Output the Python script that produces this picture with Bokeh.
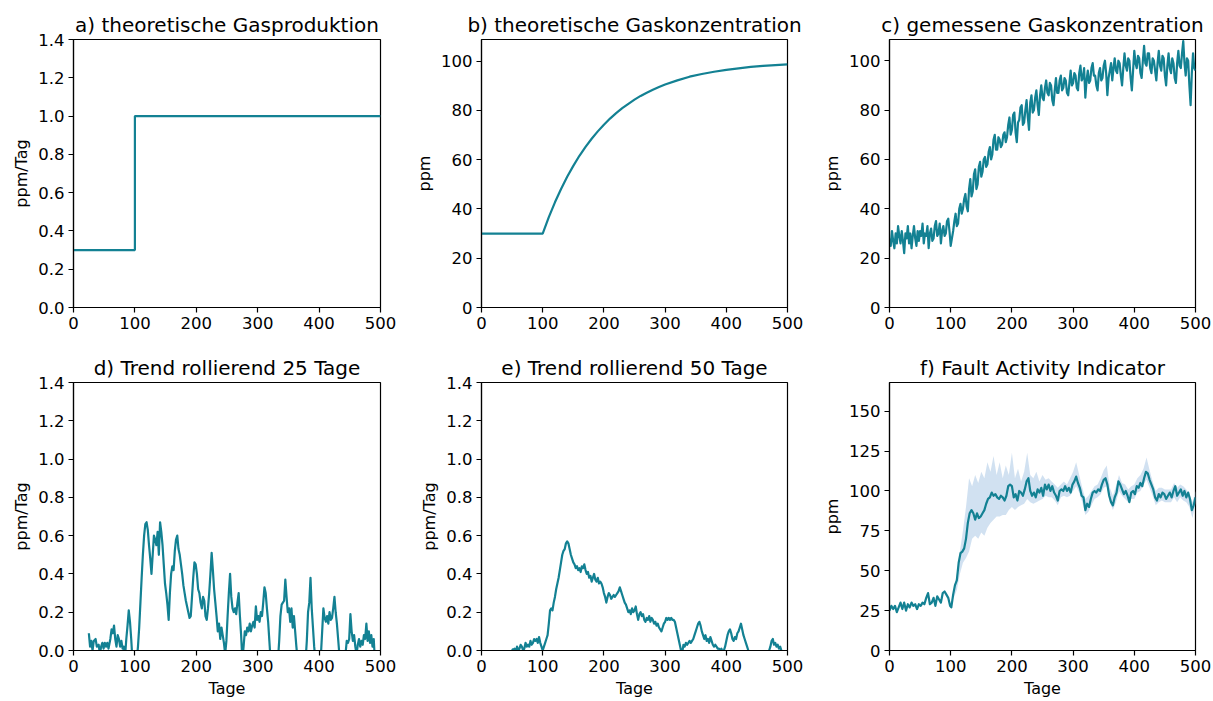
from bokeh.plotting import figure
from bokeh.layouts import column, row
from bokeh.models import FixedTicker, Range1d, CustomJSTickFormatter
from bokeh.embed import file_html
from bokeh.resources import INLINE

# ---------------- data ----------------
titles = ["a) theoretische Gasproduktion", "b) theoretische Gaskonzentration",
          "c) gemessene Gaskonzentration", "d) Trend rollierend 25 Tage",
          "e) Trend rollierend 50 Tage", "f) Fault Activity Indicator"]
x_ticks = [0, 100, 200, 300, 400, 500]
rate_ticks = [0.0, 0.2, 0.4, 0.6, 0.8, 1.0, 1.2, 1.4]
ppm_ticks = [0, 20, 40, 60, 80, 100]
fai_ticks = [0, 25, 50, 75, 100, 125, 150]

# a) theoretical production (step)
a_days = [0, 100, 500]
a_vals = [0.3, 1.0, 1.0]

# b) theoretical concentration
b_days = [0, 100, 110, 120, 130, 140, 150, 160, 170, 180, 190, 200, 210, 220, 230, 240,
          250, 260, 270, 280, 290, 300, 320, 340, 360, 380, 400, 420, 440, 460, 480, 500]
b_vals = [30.0, 30.0, 36.7, 42.7, 48.1, 53.1, 57.5, 61.6, 65.2, 68.5, 71.5, 74.2, 76.7,
          78.9, 80.9, 82.7, 84.4, 85.9, 87.2, 88.4, 89.5, 90.5, 92.2, 93.7, 94.8, 95.7,
          96.5, 97.1, 97.7, 98.1, 98.4, 98.7]

# c) measured concentration (every 2 days)
c_days = list(range(0, 501, 2))
c_vals = [28, 25, 31, 27, 24, 30, 26, 33, 29, 26,
          31, 27, 22, 30, 28, 33, 26, 30, 24, 29,
          33, 28, 25, 31, 27, 31, 29, 34, 26, 30,
          29, 33, 24, 30, 32, 27, 28, 33, 35, 29,
          30, 34, 26, 31, 33, 29, 30, 35, 36, 31,
          25, 28, 31, 35, 38, 33, 34, 40, 42, 38,
          40, 44, 46, 41, 39, 48, 52, 45, 47, 54,
          56, 48, 50, 57, 59, 53, 55, 60, 61, 57,
          58, 63, 65, 60, 62, 68, 70, 64, 64, 69,
          68, 65, 66, 70, 71, 67, 69, 74, 77, 70,
          72, 78, 79, 71, 67, 75, 76, 81, 82, 74,
          75, 80, 84, 77, 72, 83, 86, 79, 80, 85,
          88, 82, 78, 86, 90, 85, 84, 89, 92, 87,
          86, 91, 90, 84, 82, 88, 93, 87, 87, 92,
          94, 88, 89, 93, 92, 87, 86, 91, 96, 90,
          91, 95, 94, 89, 88, 95, 98, 92, 93, 97,
          85, 92, 96, 91, 92, 97, 99, 94, 94, 90,
          88, 95, 97, 92, 93, 98, 100, 95, 86, 93,
          96, 99, 92, 97, 101, 96, 95, 100, 99, 94,
          90, 97, 103, 98, 96, 101, 100, 93, 88, 96,
          104, 99, 97, 102, 101, 95, 93, 100, 106, 99,
          98, 103, 103, 97, 95, 101, 100, 96, 92, 99,
          104, 98, 96, 102, 101, 94, 90, 98, 103, 97,
          95, 101, 99, 93, 91, 99, 104, 98, 97, 103,
          108, 99, 94, 101, 100, 90, 82, 95, 103, 97,
          96]

# d) rolling trend 25 days
d_days = [25, 27, 29, 31, 33, 36, 38, 41, 43, 45, 47, 49, 51, 53, 55, 57, 60, 62, 64, 66,
          68, 70, 72, 74, 76, 78, 80, 82, 84, 86, 88, 90, 92, 94, 96, 100, 103, 105, 107, 109,
          111, 113, 115, 117, 119, 121, 123, 125, 127, 129, 131, 133, 135, 137, 139, 141, 143, 145, 147, 149,
          151, 153, 155, 157, 159, 161, 163, 165, 167, 169, 171, 173, 175, 177, 179, 181, 183, 185, 187, 189,
          191, 193, 195, 197, 199, 201, 203, 205, 207, 209, 211, 213, 215, 217, 219, 221, 223, 225, 227, 229,
          231, 233, 235, 237, 239, 241, 243, 245, 247, 249, 251, 253, 255, 257, 259, 261, 263, 265, 267, 269,
          271, 273, 275, 277, 279, 281, 283, 285, 287, 289, 291, 293, 295, 297, 299, 301, 303, 305, 307, 309,
          311, 313, 315, 317, 319, 321, 328, 333, 335, 337, 339, 341, 343, 345, 347, 349, 351, 353, 355, 357,
          359, 361, 363, 365, 372, 378, 380, 382, 384, 386, 388, 390, 392, 394, 400, 403, 405, 407, 409, 411,
          413, 415, 417, 419, 421, 423, 425, 427, 429, 431, 433, 438, 443, 445, 447, 449, 451, 453, 455, 457,
          459, 461, 463, 465, 467, 469, 471, 473, 475, 477, 479, 481, 483, 485, 487, 489, 490]
d_vals = [0.09, 0.02, 0.05, 0.0, 0.05, 0.06, 0.02, 0.03, -0.02, 0.02, 0.04, 0.01, 0.04, 0.02, 0.04, 0.01, 0.06, 0.11, 0.09, 0.13,
          0.06, 0.02, 0.08, 0.06, 0.02, 0.05, 0.01, 0.02, -0.03, 0.06, 0.13, 0.21, 0.15, 0.06, -0.05, -0.1, -0.05, 0.02, 0.12, 0.25,
          0.38, 0.50, 0.60, 0.66, 0.67, 0.63, 0.55, 0.48, 0.40, 0.50, 0.60, 0.58, 0.55, 0.62, 0.50, 0.67, 0.62, 0.55, 0.45, 0.35,
          0.30, 0.24, 0.16, 0.30, 0.40, 0.44, 0.42, 0.52, 0.58, 0.60, 0.53, 0.50, 0.45, 0.40, 0.34, 0.30, 0.26, 0.23, 0.20, 0.17,
          0.18, 0.28, 0.38, 0.46, 0.45, 0.40, 0.32, 0.30, 0.25, 0.22, 0.28, 0.26, 0.18, 0.16, 0.22, 0.30, 0.40, 0.51, 0.42, 0.32,
          0.25, 0.18, 0.10, 0.14, 0.06, 0.12, 0.08, 0.04, -0.02, 0.05, 0.18, 0.30, 0.40, 0.28, 0.22, 0.20, 0.22, 0.19, 0.25, 0.30,
          0.18, 0.08, -0.05, 0.02, 0.10, 0.08, 0.12, 0.10, 0.14, 0.10, 0.13, 0.15, 0.12, 0.23, 0.16, 0.18, 0.15, 0.20, 0.18, 0.25,
          0.33, 0.30, 0.22, 0.15, 0.05, -0.05, -0.1, -0.05, 0.05, 0.18, 0.24, 0.25, 0.26, 0.37, 0.28, 0.20, 0.22, 0.15, 0.22, 0.12,
          0.18, 0.10, 0.02, -0.05, -0.1, -0.05, 0.05, 0.20, 0.25, 0.38, 0.22, 0.12, 0.02, -0.05, -0.1, -0.02, 0.10, 0.22, 0.17, 0.15,
          0.18, 0.14, 0.20, 0.16, 0.17, 0.22, 0.28, 0.20, 0.14, 0.06, -0.02, -0.08, -0.02, 0.05, 0.04, 0.06, 0.19, 0.10, 0.05, 0.08,
          0.02, -0.02, 0.03, 0.06, 0.02, 0.05, 0.03, 0.08, 0.06, 0.14, 0.05, 0.10, 0.04, 0.08, 0.02, 0.06, 0.0]

# e) rolling trend 50 days
e_days = list(range(50, 437, 2)) + [440, 450, 460, 468] + list(range(470, 491, 2))
e_vals = [0.01, 0.0, 0.01, -0.01, 0.02, 0.0, 0.01, 0.03, 0.02, 0.0, 0.01, 0.04, 0.02, 0.03, 0.02, 0.05, 0.03, 0.04, 0.06, 0.05,
          0.06, 0.04, 0.07, 0.04, 0.02, 0.0, 0.02, 0.04, 0.06, 0.08, 0.14, 0.21, 0.22, 0.21, 0.25, 0.28, 0.32, 0.35, 0.38, 0.42,
          0.46, 0.50, 0.52, 0.53, 0.56, 0.57, 0.56, 0.53, 0.50, 0.48, 0.46, 0.45, 0.43, 0.44, 0.42, 0.43, 0.41, 0.44, 0.43, 0.45,
          0.42, 0.40, 0.41, 0.38, 0.39, 0.36, 0.38, 0.40, 0.37, 0.36, 0.38, 0.35, 0.36, 0.35, 0.33, 0.30, 0.28, 0.25, 0.28, 0.30,
          0.29, 0.27, 0.28, 0.29, 0.28, 0.29, 0.30, 0.31, 0.33, 0.31, 0.29, 0.27, 0.25, 0.24, 0.22, 0.20, 0.21, 0.19, 0.22, 0.20,
          0.21, 0.23, 0.19, 0.16, 0.19, 0.20, 0.18, 0.19, 0.16, 0.15, 0.17, 0.16, 0.18, 0.15, 0.17, 0.16, 0.14, 0.15, 0.13, 0.14,
          0.12, 0.11, 0.10, 0.12, 0.14, 0.15, 0.17, 0.16, 0.17, 0.16, 0.17, 0.16, 0.16, 0.15, 0.12, 0.09, 0.06, 0.03, 0.0, -0.01,
          0.03, 0.02, 0.04, 0.03, 0.04, 0.05, 0.04, 0.05, 0.06, 0.08, 0.10, 0.12, 0.14, 0.15, 0.13, 0.10, 0.08, 0.06, 0.08, 0.05,
          0.06, 0.04, 0.07, 0.05, 0.03, 0.02, 0.03, 0.02, 0.01, 0.01, 0.0, 0.01, -0.01, 0.0, 0.02, 0.05, 0.08, 0.10, 0.11, 0.09,
          0.06, 0.05, 0.07, 0.06, 0.09, 0.10, 0.12, 0.14, 0.11, 0.08, 0.06, 0.04, 0.02, 0.0,
          -0.04, -0.06, -0.04, -0.01,
          0.0, 0.02, 0.05, 0.06, 0.03, 0.04, 0.02, 0.03, 0.01, 0.02, 0.0]

# f) fault activity indicator (line)
f_days = list(range(0, 100, 3)) + [101] + list(range(104, 500, 3)) + [500]
f_vals = [25, 28, 26, 28, 24, 27, 30, 26, 30, 25, 29, 27, 30, 28, 29, 26, 29, 28, 30, 29,
          33, 36, 29, 30, 33, 28, 34, 32, 30, 36, 37, 35, 33, 28,
          27,
          35, 41, 44, 55, 61, 62, 64, 70, 80, 86, 88, 86, 82, 86, 83, 84, 86, 88, 92, 95,
          96, 99, 97, 98, 96, 95, 97, 96, 94, 97, 103, 104, 103, 96, 98, 94, 100, 99, 97, 101,
          106, 108, 100, 97, 99, 96, 101, 99, 102, 97, 104, 101, 104, 100, 103, 99, 97, 94, 100, 101,
          100, 103, 100, 102, 99, 104, 106, 109, 105, 102, 97, 96, 88, 92, 90, 95, 99, 100, 99, 101,
          100, 104, 107, 108, 104, 97, 93, 91, 96, 99, 106, 104, 101, 98, 100, 97, 93, 99, 100, 98,
          103, 102, 105, 103, 108, 112, 111, 107, 104, 101, 96, 94, 98, 96, 99, 98, 95, 97, 99, 96,
          100, 103, 97, 99, 101, 97, 100, 96, 99, 95, 88, 91,
          96]

# f) uncertainty band
band_days = [100, 105, 110, 115, 120, 125, 130, 135, 140, 145, 150, 155, 160, 165, 170, 175, 180, 185, 190,
             195, 200, 205, 210, 215, 220, 225, 230, 235, 240, 245, 250, 255, 260, 265, 270, 275, 280, 285, 290,
             295, 300, 305, 310, 315, 320, 325, 330, 335, 340, 345, 350, 355, 360, 365, 370, 375, 380, 385, 390,
             395, 400, 405, 410, 415, 420, 425, 430, 435, 440, 445, 450, 455, 460, 465, 470, 475, 480, 485, 490,
             495, 500]
band_low = [28, 33, 38, 48, 55, 58, 62, 70, 72, 70, 74, 72, 77, 80, 82, 84, 84, 85, 85,
            88, 90, 88, 90, 91, 92, 95, 93, 92, 93, 94, 95, 97, 96, 96, 94, 91, 96, 97, 96,
            97, 100, 103, 99, 93, 85, 87, 91, 95, 96, 98, 102, 103, 93, 88, 93, 100, 97, 95, 93,
            95, 95, 99, 100, 104, 107, 102, 97, 91, 93, 94, 93, 93, 93, 96, 93, 96, 94, 93, 90,
            83, 92]
band_high = [28, 38, 48, 62, 75, 90, 108, 103, 110, 105, 112, 108, 118, 112, 122, 110, 118, 108, 116,
             110, 124, 108, 114, 106, 112, 124, 110, 108, 112, 106, 110, 107, 108, 106, 104, 102, 104, 106, 104,
             108, 112, 118, 110, 102, 95, 97, 100, 103, 104, 108, 113, 116, 102, 97, 103, 110, 105, 104, 101,
             103, 104, 108, 110, 114, 121, 113, 106, 100, 102, 102, 101, 101, 101, 105, 102, 104, 103, 101, 98,
             93, 100]

# ---------------- styling ----------------
LINE = "#138193"
BAND = "#c9dcee"
FONT = "DejaVu Sans"
LW = 2.2


def make(title, ylabel, ymax, yticks, xlabel, ml, mr, mt, mb, fw, fh):
    p = figure(frame_width=fw, frame_height=fh, min_border_left=ml, min_border_right=mr,
               min_border_top=mt, min_border_bottom=mb, output_backend="svg",
               toolbar_location=None, x_range=Range1d(0, 500), y_range=Range1d(0, ymax),
               background_fill_color="white", border_fill_color="white")
    p.title.text = title
    p.title.align = "center"
    p.title.text_font = FONT
    p.title.text_font_size = "20px"
    p.title.text_font_style = "normal"
    p.title.text_color = "black"
    p.title.standoff = 5
    p.xgrid.visible = False
    p.ygrid.visible = False
    p.outline_line_color = "black"
    p.outline_line_width = 1.2
    p.outline_line_alpha = 1
    for ax in (p.xaxis[0], p.yaxis[0]):
        ax.major_label_text_font = FONT
        ax.major_label_text_font_size = "16.5px"
        ax.major_label_text_color = "black"
        ax.axis_label_text_font = FONT
        ax.axis_label_text_font_size = "16px"
        ax.axis_label_text_font_style = "normal"
        ax.axis_label_text_color = "black"
        ax.axis_line_color = "black"
        ax.axis_line_width = 1.2
        ax.major_tick_line_color = "black"
        ax.major_tick_line_width = 1.2
        ax.major_tick_out = 5
        ax.major_tick_in = 0
        ax.minor_tick_line_color = None
        ax.major_label_standoff = 4
        ax.axis_label_standoff = 4
    p.xaxis[0].ticker = FixedTicker(ticks=x_ticks)
    p.yaxis[0].ticker = FixedTicker(ticks=yticks)
    p.yaxis[0].axis_label = ylabel
    if xlabel:
        p.xaxis[0].axis_label = xlabel
    return p


def one_decimal():
    return CustomJSTickFormatter(code="return tick.toFixed(1);")


pa = make(titles[0], "ppm/Tag", 1.4, rate_ticks, None, 73, 20, 39, 33, 307, 268)
pa.yaxis[0].formatter = one_decimal()
pa.step(a_days, a_vals, mode="after", line_color=LINE, line_width=LW)

pb = make(titles[1], "ppm", 108.8, ppm_ticks, None, 81, 21, 39, 33, 306, 268)
pb.line(b_days, b_vals, line_color=LINE, line_width=LW)

pc = make(titles[2], "ppm", 108.6, ppm_ticks, None, 81, 18, 39, 33, 306, 268)
pc.line(c_days, c_vals, line_color=LINE, line_width=LW, line_join="round")

pd_ = make(titles[3], "ppm/Tag", 1.4, rate_ticks, "Tage", 73, 20, 42, 51, 307, 268)
pd_.yaxis[0].formatter = one_decimal()
pd_.line(d_days, d_vals, line_color=LINE, line_width=LW, line_join="round")

pe = make(titles[4], "ppm/Tag", 1.4, rate_ticks, "Tage", 81, 21, 42, 51, 306, 268)
pe.yaxis[0].formatter = one_decimal()
pe.line(e_days, e_vals, line_color=LINE, line_width=LW, line_join="round")

pf = make(titles[5], "ppm", 168, fai_ticks, "Tage", 81, 18, 42, 51, 306, 268)
pf.varea(x=band_days, y1=band_low, y2=band_high, fill_color=BAND, fill_alpha=0.85)
pf.line(f_days, f_vals, line_color=LINE, line_width=LW, line_join="round")

layout = column(row(pa, pb, pc, spacing=0), row(pd_, pe, pf, spacing=0), spacing=0)

open("out.html", "w").write(file_html(layout, INLINE))
